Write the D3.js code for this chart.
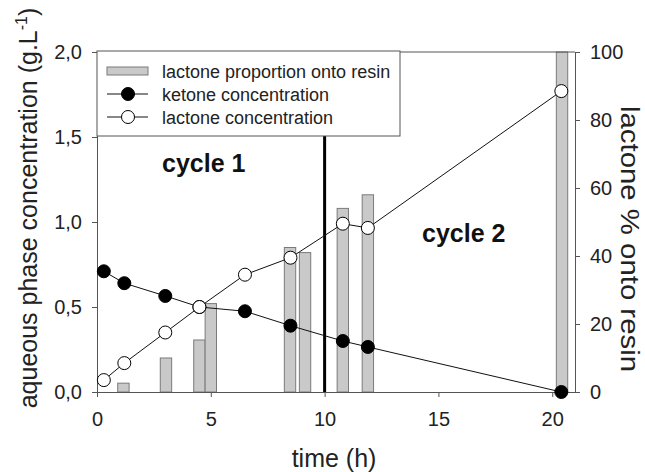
<!DOCTYPE html>
<html><head><meta charset="utf-8">
<script src="https://cdn.jsdelivr.net/npm/d3@7"></script>
<style>body{margin:0;background:#fff} text{font-family:"Liberation Sans",Arial,Helvetica,sans-serif}</style>
</head><body>
<svg id="c" width="645" height="472"></svg>
<script>
const sampleTime = [0.3, 1.2, 3.0, 4.5, 6.5, 8.5, 10.8, 11.9, 20.4];
const ketone = [0.71, 0.64, 0.565, 0.50, 0.475, 0.39, 0.30, 0.265, 0.0];
const lactone = [0.07, 0.17, 0.35, 0.50, 0.69, 0.79, 0.99, 0.965, 1.77];
const barTime = [1.16, 3.03, 4.5, 5.0, 8.48, 9.14, 10.8, 11.9, 20.43];
const barPct = [2.6, 10, 15.3, 26, 42.5, 41, 54, 58, 100];
const xTickValues = [0, 5, 10, 15, 20];
const yLeftTicks = [0, 0.5, 1, 1.5, 2];
const yRightTicks = [0, 20, 40, 60, 80, 100];
const cycleLineTime = 10;
const legendLabels = ["lactone proportion onto resin", "ketone concentration", "lactone concentration"];
const cycleLabels = ["cycle 1", "cycle 2"];

const svg = d3.select("#c");
const L = 97, R = 575, T = 52, B = 392;
const x = d3.scaleLinear().domain([0, 21]).range([L, R]);
const yL = d3.scaleLinear().domain([0, 2]).range([B, T]);
const yR = d3.scaleLinear().domain([0, 100]).range([B, T]);
const axisCol = "#555";

// bars
const bw = x(0.5) - x(0);
svg.append("g").selectAll("rect").data(barTime.map((t, i) => ({t, v: barPct[i]})))
  .join("rect")
  .attr("x", d => x(d.t) - bw / 2).attr("y", d => yR(d.v))
  .attr("width", bw).attr("height", d => B - yR(d.v))
  .attr("fill", "#c9c9c9").attr("stroke", "#7a7a7a").attr("stroke-width", 1);

// top frame
svg.append("line").attr("x1", L).attr("x2", R).attr("y1", T).attr("y2", T)
  .attr("stroke", axisCol).attr("stroke-width", 1);

function styleAxis(g, fs) {
  g.select(".domain").attr("stroke", axisCol);
  g.selectAll(".tick line").attr("stroke", axisCol);
  g.selectAll(".tick text").attr("fill", "#222").style("font-size", fs + "px")
    .style("font-family", '"Liberation Sans",Arial,sans-serif');
}
const fmtY = d => d3.format(".1f")(d).replace(".", ",");
svg.append("g").attr("transform", `translate(${L},0)`)
  .call(d3.axisLeft(yL).tickValues(yLeftTicks).tickFormat(fmtY).tickSize(5).tickPadding(10).tickSizeOuter(0))
  .call(g => styleAxis(g, 20));
svg.append("g").attr("transform", `translate(${R},0)`)
  .call(d3.axisRight(yR).tickValues(yRightTicks).tickFormat(d3.format("d")).tickSize(5).tickPadding(10).tickSizeOuter(0))
  .call(g => styleAxis(g, 20));
svg.append("g").attr("transform", `translate(0,${B})`)
  .call(d3.axisBottom(x).tickValues(xTickValues).tickFormat(d3.format("d")).tickSize(5).tickPadding(15).tickSizeOuter(0))
  .call(g => styleAxis(g, 20));

// cycle separator
svg.append("line").attr("x1", x(cycleLineTime)).attr("x2", x(cycleLineTime)).attr("y1", T).attr("y2", B)
  .attr("stroke", "#000").attr("stroke-width", 3);

// lines
const lineK = d3.line().x((d, i) => x(sampleTime[i])).y(d => yL(d));
svg.append("path").attr("d", lineK(ketone)).attr("fill", "none").attr("stroke", "#111").attr("stroke-width", 1);
svg.append("path").attr("d", lineK(lactone)).attr("fill", "none").attr("stroke", "#111").attr("stroke-width", 1);
svg.append("g").selectAll("circle").data(ketone).join("circle")
  .attr("cx", (d, i) => x(sampleTime[i])).attr("cy", d => yL(d)).attr("r", 6.5)
  .attr("fill", "#000").attr("stroke", "#000");
svg.append("g").selectAll("circle").data(lactone).join("circle")
  .attr("cx", (d, i) => x(sampleTime[i])).attr("cy", d => yL(d)).attr("r", 6.5)
  .attr("fill", "#fff").attr("stroke", "#000").attr("stroke-width", 1);

// cycle labels
svg.append("text").attr("x", 162).attr("y", 172).text(cycleLabels[0])
  .style("font-size", "25px").style("font-weight", "bold").attr("fill", "#111");
svg.append("text").attr("x", 422).attr("y", 242).text(cycleLabels[1])
  .style("font-size", "25px").style("font-weight", "bold").attr("fill", "#111");

// legend
const lg = svg.append("g");
lg.append("rect").attr("x", L).attr("y", T - 1).attr("width", 400 - L).attr("height", 136 - T + 1)
  .attr("fill", "#fff").attr("stroke", axisCol);
const rowY = [71, 94, 117];
lg.append("rect").attr("x", 107).attr("y", rowY[0] - 4).attr("width", 41).attr("height", 8)
  .attr("fill", "#c9c9c9").attr("stroke", "#7a7a7a");
[1, 2].forEach(i => {
  lg.append("line").attr("x1", 107).attr("x2", 148).attr("y1", rowY[i]).attr("y2", rowY[i]).attr("stroke", "#111");
  lg.append("circle").attr("cx", 128).attr("cy", rowY[i]).attr("r", 6.5)
    .attr("fill", i === 1 ? "#000" : "#fff").attr("stroke", "#000");
});
legendLabels.forEach((s, i) => {
  lg.append("text").attr("x", 162).attr("y", rowY[i] + 7).text(s).style("font-size", "18px").attr("fill", "#222");
});

// axis titles
svg.append("text").attr("text-anchor", "middle").attr("transform", `translate(334,467)`)
  .style("font-size", "25px").attr("fill", "#222").text("time (h)");
const lt = svg.append("text").attr("text-anchor", "middle").attr("transform", `translate(37,208) rotate(-90)`)
  .style("font-size", "25px").attr("fill", "#222");
lt.append("tspan").text("aqueous phase concentration (g.L");
lt.append("tspan").attr("dy", -10).style("font-size", "16px").text("-1");
lt.append("tspan").attr("dy", 10).text(")");
svg.append("text").attr("text-anchor", "middle").attr("transform", `translate(621,239) rotate(90)`)
  .attr("textLength", 266).attr("lengthAdjust", "spacingAndGlyphs")
  .style("font-size", "26px").attr("fill", "#222").text("lactone % onto resin");
</script>
</body></html>
